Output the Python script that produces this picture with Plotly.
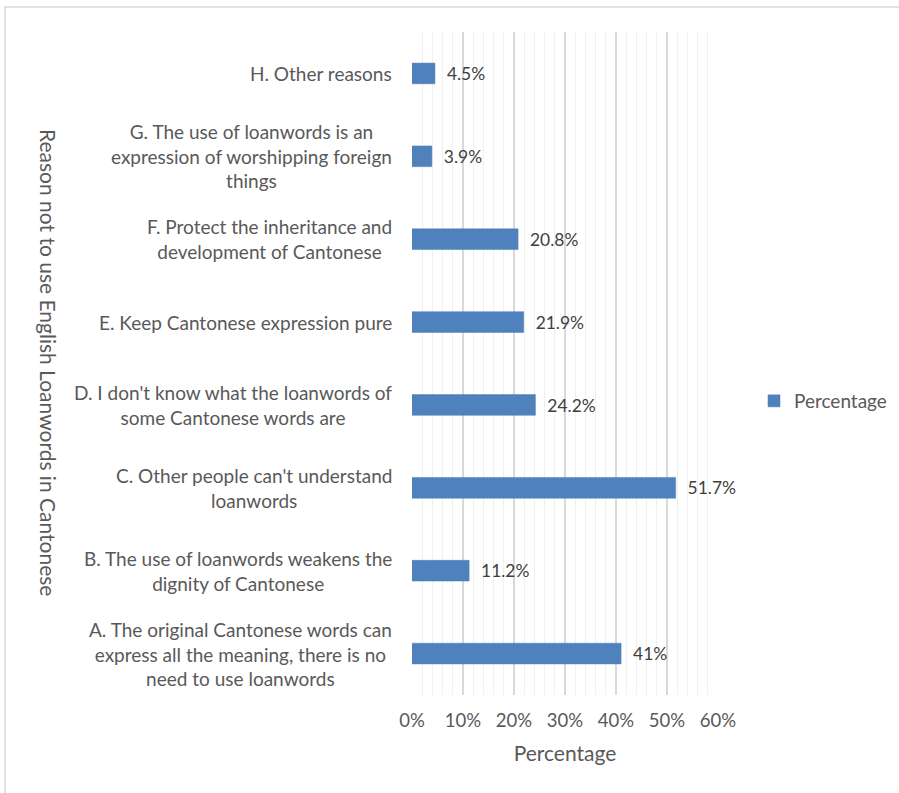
import plotly.graph_objects as go

categories = [
    "A. The original Cantonese words can<br>express all the meaning, there is no<br>need to use loanwords",
    "B. The use of loanwords weakens the<br>dignity of Cantonese",
    "C. Other people can't understand<br>loanwords",
    "D. I don't know what the loanwords of<br>some Cantonese words are",
    "E. Keep Cantonese expression pure",
    "F. Protect the inheritance and<br>development of Cantonese",
    "G. The use of loanwords is an<br>expression of worshipping foreign<br>things",
    "H. Other reasons",
]
values = [41, 11.2, 51.7, 24.2, 21.9, 20.8, 3.9, 4.5]
value_labels = ["41%", "11.2%", "51.7%", "24.2%", "21.9%", "20.8%", "3.9%", "4.5%"]
x_ticks = [0, 10, 20, 30, 40, 50, 60]
x_tick_labels = ["0%", "10%", "20%", "30%", "40%", "50%", "60%"]

FONT = "Lato"
GREY = "#595959"

W, H = 899, 793
ML, MR, MT, MB = 412, 181, 32, 98
PW = W - ML - MR
PH = H - MT - MB

def px(xp):
    return (xp - ML) / PW

def py(yp):
    return (H - MB - yp) / PH

fig = go.Figure()
fig.add_trace(go.Bar(
    y=categories, x=values, orientation="h",
    name="Percentage",
    marker=dict(color="#4f81bd", line=dict(color="#4a7ebb", width=0.5)),
    width=0.25,
    text=["  " + t for t in value_labels],
    textposition="outside",
    textfont=dict(family=FONT, size=18.5, color="#404040"),
    cliponaxis=False,
))

annotations = []
for c in categories:
    annotations.append(dict(
        x=px(394), xref="paper", y=c, yref="y",
        text=c, showarrow=False, xanchor="right", yanchor="middle",
        align="center",
        font=dict(family=FONT, size=19, color=GREY),
    ))
annotations.append(dict(
    x=px(49), xref="paper", y=py(362), yref="paper",
    text="Reason not to use English Loanwords in Cantonese",
    showarrow=False, textangle=90, xanchor="center", yanchor="middle",
    font=dict(family=FONT, size=21, color=GREY),
))

fig.update_layout(
    width=W, height=H,
    margin=dict(l=ML, r=MR, t=MT, b=MB, autoexpand=False),
    paper_bgcolor="white", plot_bgcolor="white",
    showlegend=True,
    legend=dict(x=px(754), y=py(401), xanchor="left", yanchor="middle",
                font=dict(family=FONT, size=19, color=GREY),
                itemwidth=30),
    annotations=annotations,
    shapes=[dict(type="rect", xref="paper", yref="paper",
                 x0=px(5), x1=px(910), y0=py(800), y1=py(7),
                 line=dict(color="#d9d9d9", width=1.5))],
    xaxis=dict(
        range=[0, 60], tickvals=x_ticks, ticktext=x_tick_labels,
        showgrid=True, gridcolor="#d9d9d9", gridwidth=1.5,
        minor=dict(dtick=2, showgrid=True, gridcolor="#f0f0f0", gridwidth=1),
        zeroline=False, showline=False, ticks="",
        ticklabelstandoff=12,
        tickfont=dict(family=FONT, size=18.5, color=GREY),
        title=dict(text="Percentage", font=dict(family=FONT, size=21, color=GREY),
                   standoff=16),
        fixedrange=True,
    ),
    yaxis=dict(
        categoryorder="array", categoryarray=categories,
        showticklabels=False, showgrid=False, zeroline=False, showline=False,
        ticks="", fixedrange=True,
    ),
    bargap=0.75,
)

fig.write_html("out.html", config={"displayModeBar": False},
               post_script="document.body.style.margin='0px';")
